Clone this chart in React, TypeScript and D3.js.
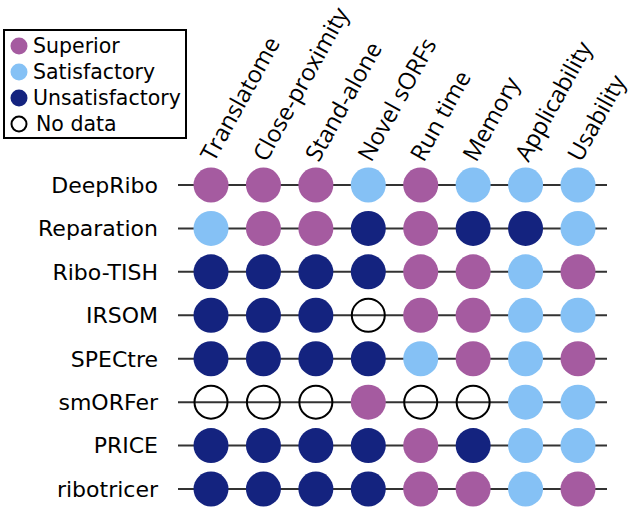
import React from "react";
import * as d3 from "d3";

const tools = ["DeepRibo", "Reparation", "Ribo-TISH", "IRSOM", "SPECtre", "smORFer", "PRICE", "ribotricer"];
const criteria = ["Translatome", "Close-proximity", "Stand-alone", "Novel sORFs", "Run time", "Memory", "Applicability", "Usability"];
const ratingLevels = ["Superior", "Satisfactory", "Unsatisfactory", "No data"];

// S = Superior, F = Satisfactory, U = Unsatisfactory, N = No data
const ratingDeepRibo = ["S", "S", "S", "F", "S", "F", "F", "F"];
const ratingReparation = ["F", "S", "S", "U", "S", "U", "U", "F"];
const ratingRiboTISH = ["U", "U", "U", "U", "S", "S", "F", "S"];
const ratingIRSOM = ["U", "U", "U", "N", "S", "S", "F", "F"];
const ratingSPECtre = ["U", "U", "U", "U", "F", "S", "F", "S"];
const ratingSmORFer = ["N", "N", "N", "S", "N", "N", "F", "F"];
const ratingPRICE = ["U", "U", "U", "U", "S", "U", "F", "F"];
const ratingRibotricer = ["U", "U", "U", "U", "S", "S", "F", "S"];

const ratingRows = [
  ratingDeepRibo, ratingReparation, ratingRiboTISH, ratingIRSOM,
  ratingSPECtre, ratingSmORFer, ratingPRICE, ratingRibotricer,
];
const codeToLevel: Record<string, string> = { S: "Superior", F: "Satisfactory", U: "Unsatisfactory", N: "No data" };

const W = 633;
const H = 510;

export default function App() {
  const x = d3.scalePoint<string>().domain(criteria).range([211, 578]);
  const y = d3.scalePoint<string>().domain(tools).range([185, 489]);
  const fill = d3.scaleOrdinal<string, string>().domain(ratingLevels).range(["#a55ba0", "#85c1f5", "#14237f", "none"]);
  const legendY = d3.scalePoint<string>().domain(ratingLevels).range([46, 124]);

  const cells = tools.flatMap((t, i) =>
    criteria.map((c, j) => ({ tool: t, crit: c, level: codeToLevel[ratingRows[i][j]] }))
  );

  return (
    <svg width={W} height={H} style={{ position: "absolute", left: 0, top: 0, background: "#fff" }}
      fontFamily="'DejaVu Sans', sans-serif">
      {/* legend */}
      <rect x={4} y={30} width={182} height={108} fill="#fff" stroke="#000" strokeWidth={2} />
      {ratingLevels.map((l) => (
        <g key={l} transform={`translate(0,${legendY(l)})`}>
          <circle cx={19} cy={0} r={l === "No data" ? 7.5 : 8.5}
            fill={l === "No data" ? "#fff" : fill(l)}
            stroke={l === "No data" ? "#000" : "none"} strokeWidth={2} />
          <text x={l === "No data" ? 36 : 33} dy="0.36em" fontSize={20.5} fill="#000">{l}</text>
        </g>
      ))}

      {/* column labels */}
      {criteria.map((c) => (
        <text key={c} transform={`translate(${(x(c) as number) + 3},163) rotate(-61)`}
          fontFamily="'Open Sans', sans-serif" fontSize={23.5} fill="#000">{c}</text>
      ))}

      {/* rows */}
      {tools.map((t) => (
        <g key={t}>
          <text x={158} y={y(t)} dy="0.36em" textAnchor="end" fontSize={22} fill="#000">{t}</text>
          <line x1={178} x2={607} y1={y(t)} y2={y(t)} stroke="#333" strokeWidth={2} />
        </g>
      ))}

      {/* dots */}
      {cells.map((d) => (
        <circle key={d.tool + d.crit} cx={x(d.crit)} cy={y(d.tool)}
          r={d.level === "No data" ? 16.5 : 17.5}
          fill={fill(d.level)}
          stroke={d.level === "No data" ? "#000" : "none"} strokeWidth={2} />
      ))}
    </svg>
  );
}
